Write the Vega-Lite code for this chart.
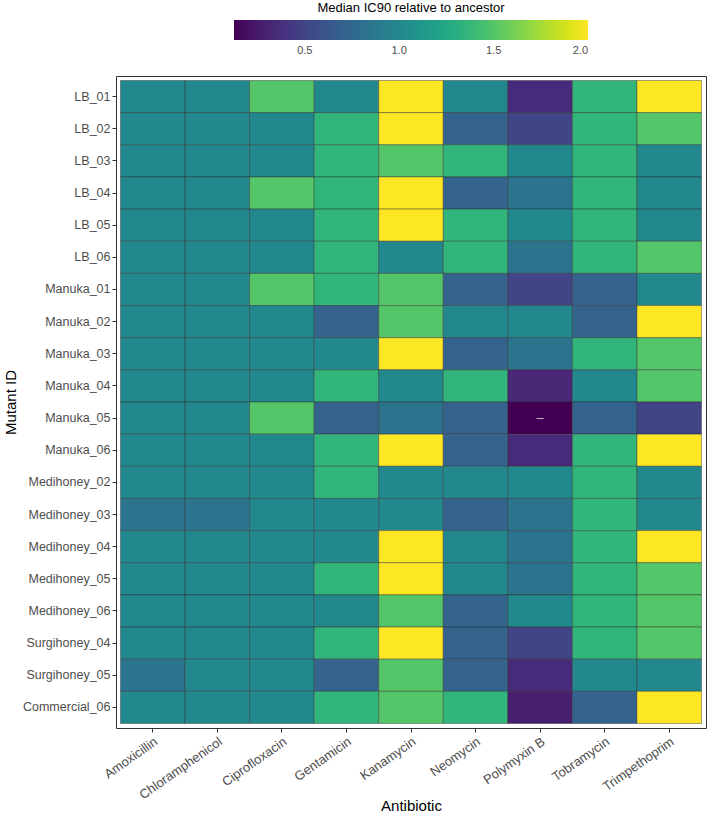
{
  "$schema": "https://vega.github.io/schema/vega-lite/v6.json",
  "width": 590,
  "height": 652,
  "autosize": {"type": "none"},
  "padding": {"left": 116, "top": 76, "right": 3, "bottom": 88},
  "background": "white",
  "config": {
    "font": "Liberation Sans",
    "view": {"stroke": "#333333", "strokeWidth": 1},
    "axis": {
      "titleFontSize": 15,
      "titleFontWeight": "normal",
      "titleColor": "black",
      "labelFontSize": 12.5,
      "labelColor": "#4d4d4d",
      "tickColor": "#333333",
      "tickSize": 4,
      "domain": false,
      "labelPadding": 2,
      "grid": false
    }
  },
  "data": {
    "values": [
      {"mutant": "LB_01", "antibiotic": "Amoxicillin", "value": 1},
      {"mutant": "LB_01", "antibiotic": "Chloramphenicol", "value": 1},
      {"mutant": "LB_01", "antibiotic": "Ciprofloxacin", "value": 1.5},
      {"mutant": "LB_01", "antibiotic": "Gentamicin", "value": 1},
      {"mutant": "LB_01", "antibiotic": "Kanamycin", "value": 2},
      {"mutant": "LB_01", "antibiotic": "Neomycin", "value": 1},
      {"mutant": "LB_01", "antibiotic": "Polymyxin B", "value": 0.35},
      {"mutant": "LB_01", "antibiotic": "Tobramycin", "value": 1.36},
      {"mutant": "LB_01", "antibiotic": "Trimpethoprim", "value": 2},
      {"mutant": "LB_02", "antibiotic": "Amoxicillin", "value": 1},
      {"mutant": "LB_02", "antibiotic": "Chloramphenicol", "value": 1},
      {"mutant": "LB_02", "antibiotic": "Ciprofloxacin", "value": 1},
      {"mutant": "LB_02", "antibiotic": "Gentamicin", "value": 1.36},
      {"mutant": "LB_02", "antibiotic": "Kanamycin", "value": 2},
      {"mutant": "LB_02", "antibiotic": "Neomycin", "value": 0.71},
      {"mutant": "LB_02", "antibiotic": "Polymyxin B", "value": 0.5},
      {"mutant": "LB_02", "antibiotic": "Tobramycin", "value": 1.36},
      {"mutant": "LB_02", "antibiotic": "Trimpethoprim", "value": 1.5},
      {"mutant": "LB_03", "antibiotic": "Amoxicillin", "value": 1},
      {"mutant": "LB_03", "antibiotic": "Chloramphenicol", "value": 1},
      {"mutant": "LB_03", "antibiotic": "Ciprofloxacin", "value": 1},
      {"mutant": "LB_03", "antibiotic": "Gentamicin", "value": 1.36},
      {"mutant": "LB_03", "antibiotic": "Kanamycin", "value": 1.5},
      {"mutant": "LB_03", "antibiotic": "Neomycin", "value": 1.36},
      {"mutant": "LB_03", "antibiotic": "Polymyxin B", "value": 1},
      {"mutant": "LB_03", "antibiotic": "Tobramycin", "value": 1.36},
      {"mutant": "LB_03", "antibiotic": "Trimpethoprim", "value": 1},
      {"mutant": "LB_04", "antibiotic": "Amoxicillin", "value": 1},
      {"mutant": "LB_04", "antibiotic": "Chloramphenicol", "value": 1},
      {"mutant": "LB_04", "antibiotic": "Ciprofloxacin", "value": 1.5},
      {"mutant": "LB_04", "antibiotic": "Gentamicin", "value": 1.36},
      {"mutant": "LB_04", "antibiotic": "Kanamycin", "value": 2},
      {"mutant": "LB_04", "antibiotic": "Neomycin", "value": 0.71},
      {"mutant": "LB_04", "antibiotic": "Polymyxin B", "value": 0.84},
      {"mutant": "LB_04", "antibiotic": "Tobramycin", "value": 1.36},
      {"mutant": "LB_04", "antibiotic": "Trimpethoprim", "value": 1},
      {"mutant": "LB_05", "antibiotic": "Amoxicillin", "value": 1},
      {"mutant": "LB_05", "antibiotic": "Chloramphenicol", "value": 1},
      {"mutant": "LB_05", "antibiotic": "Ciprofloxacin", "value": 1},
      {"mutant": "LB_05", "antibiotic": "Gentamicin", "value": 1.36},
      {"mutant": "LB_05", "antibiotic": "Kanamycin", "value": 2},
      {"mutant": "LB_05", "antibiotic": "Neomycin", "value": 1.36},
      {"mutant": "LB_05", "antibiotic": "Polymyxin B", "value": 1},
      {"mutant": "LB_05", "antibiotic": "Tobramycin", "value": 1.36},
      {"mutant": "LB_05", "antibiotic": "Trimpethoprim", "value": 1},
      {"mutant": "LB_06", "antibiotic": "Amoxicillin", "value": 1},
      {"mutant": "LB_06", "antibiotic": "Chloramphenicol", "value": 1},
      {"mutant": "LB_06", "antibiotic": "Ciprofloxacin", "value": 1},
      {"mutant": "LB_06", "antibiotic": "Gentamicin", "value": 1.36},
      {"mutant": "LB_06", "antibiotic": "Kanamycin", "value": 1},
      {"mutant": "LB_06", "antibiotic": "Neomycin", "value": 1.36},
      {"mutant": "LB_06", "antibiotic": "Polymyxin B", "value": 0.84},
      {"mutant": "LB_06", "antibiotic": "Tobramycin", "value": 1.36},
      {"mutant": "LB_06", "antibiotic": "Trimpethoprim", "value": 1.5},
      {"mutant": "Manuka_01", "antibiotic": "Amoxicillin", "value": 1},
      {"mutant": "Manuka_01", "antibiotic": "Chloramphenicol", "value": 1},
      {"mutant": "Manuka_01", "antibiotic": "Ciprofloxacin", "value": 1.5},
      {"mutant": "Manuka_01", "antibiotic": "Gentamicin", "value": 1.36},
      {"mutant": "Manuka_01", "antibiotic": "Kanamycin", "value": 1.5},
      {"mutant": "Manuka_01", "antibiotic": "Neomycin", "value": 0.71},
      {"mutant": "Manuka_01", "antibiotic": "Polymyxin B", "value": 0.5},
      {"mutant": "Manuka_01", "antibiotic": "Tobramycin", "value": 0.71},
      {"mutant": "Manuka_01", "antibiotic": "Trimpethoprim", "value": 1},
      {"mutant": "Manuka_02", "antibiotic": "Amoxicillin", "value": 1},
      {"mutant": "Manuka_02", "antibiotic": "Chloramphenicol", "value": 1},
      {"mutant": "Manuka_02", "antibiotic": "Ciprofloxacin", "value": 1},
      {"mutant": "Manuka_02", "antibiotic": "Gentamicin", "value": 0.71},
      {"mutant": "Manuka_02", "antibiotic": "Kanamycin", "value": 1.5},
      {"mutant": "Manuka_02", "antibiotic": "Neomycin", "value": 1},
      {"mutant": "Manuka_02", "antibiotic": "Polymyxin B", "value": 1},
      {"mutant": "Manuka_02", "antibiotic": "Tobramycin", "value": 0.71},
      {"mutant": "Manuka_02", "antibiotic": "Trimpethoprim", "value": 2},
      {"mutant": "Manuka_03", "antibiotic": "Amoxicillin", "value": 1},
      {"mutant": "Manuka_03", "antibiotic": "Chloramphenicol", "value": 1},
      {"mutant": "Manuka_03", "antibiotic": "Ciprofloxacin", "value": 1},
      {"mutant": "Manuka_03", "antibiotic": "Gentamicin", "value": 1},
      {"mutant": "Manuka_03", "antibiotic": "Kanamycin", "value": 2},
      {"mutant": "Manuka_03", "antibiotic": "Neomycin", "value": 0.71},
      {"mutant": "Manuka_03", "antibiotic": "Polymyxin B", "value": 0.84},
      {"mutant": "Manuka_03", "antibiotic": "Tobramycin", "value": 1.36},
      {"mutant": "Manuka_03", "antibiotic": "Trimpethoprim", "value": 1.5},
      {"mutant": "Manuka_04", "antibiotic": "Amoxicillin", "value": 1},
      {"mutant": "Manuka_04", "antibiotic": "Chloramphenicol", "value": 1},
      {"mutant": "Manuka_04", "antibiotic": "Ciprofloxacin", "value": 1},
      {"mutant": "Manuka_04", "antibiotic": "Gentamicin", "value": 1.36},
      {"mutant": "Manuka_04", "antibiotic": "Kanamycin", "value": 1},
      {"mutant": "Manuka_04", "antibiotic": "Neomycin", "value": 1.36},
      {"mutant": "Manuka_04", "antibiotic": "Polymyxin B", "value": 0.33},
      {"mutant": "Manuka_04", "antibiotic": "Tobramycin", "value": 1},
      {"mutant": "Manuka_04", "antibiotic": "Trimpethoprim", "value": 1.5},
      {"mutant": "Manuka_05", "antibiotic": "Amoxicillin", "value": 1},
      {"mutant": "Manuka_05", "antibiotic": "Chloramphenicol", "value": 1},
      {"mutant": "Manuka_05", "antibiotic": "Ciprofloxacin", "value": 1.5},
      {"mutant": "Manuka_05", "antibiotic": "Gentamicin", "value": 0.71},
      {"mutant": "Manuka_05", "antibiotic": "Kanamycin", "value": 0.84},
      {"mutant": "Manuka_05", "antibiotic": "Neomycin", "value": 0.71},
      {"mutant": "Manuka_05", "antibiotic": "Polymyxin B", "value": 0.125, "label": "–"},
      {"mutant": "Manuka_05", "antibiotic": "Tobramycin", "value": 0.71},
      {"mutant": "Manuka_05", "antibiotic": "Trimpethoprim", "value": 0.5},
      {"mutant": "Manuka_06", "antibiotic": "Amoxicillin", "value": 1},
      {"mutant": "Manuka_06", "antibiotic": "Chloramphenicol", "value": 1},
      {"mutant": "Manuka_06", "antibiotic": "Ciprofloxacin", "value": 1},
      {"mutant": "Manuka_06", "antibiotic": "Gentamicin", "value": 1.36},
      {"mutant": "Manuka_06", "antibiotic": "Kanamycin", "value": 2},
      {"mutant": "Manuka_06", "antibiotic": "Neomycin", "value": 0.71},
      {"mutant": "Manuka_06", "antibiotic": "Polymyxin B", "value": 0.35},
      {"mutant": "Manuka_06", "antibiotic": "Tobramycin", "value": 1.36},
      {"mutant": "Manuka_06", "antibiotic": "Trimpethoprim", "value": 2},
      {"mutant": "Medihoney_02", "antibiotic": "Amoxicillin", "value": 1},
      {"mutant": "Medihoney_02", "antibiotic": "Chloramphenicol", "value": 1},
      {"mutant": "Medihoney_02", "antibiotic": "Ciprofloxacin", "value": 1},
      {"mutant": "Medihoney_02", "antibiotic": "Gentamicin", "value": 1.36},
      {"mutant": "Medihoney_02", "antibiotic": "Kanamycin", "value": 1},
      {"mutant": "Medihoney_02", "antibiotic": "Neomycin", "value": 1},
      {"mutant": "Medihoney_02", "antibiotic": "Polymyxin B", "value": 1},
      {"mutant": "Medihoney_02", "antibiotic": "Tobramycin", "value": 1.36},
      {"mutant": "Medihoney_02", "antibiotic": "Trimpethoprim", "value": 1},
      {"mutant": "Medihoney_03", "antibiotic": "Amoxicillin", "value": 0.84},
      {"mutant": "Medihoney_03", "antibiotic": "Chloramphenicol", "value": 0.84},
      {"mutant": "Medihoney_03", "antibiotic": "Ciprofloxacin", "value": 1},
      {"mutant": "Medihoney_03", "antibiotic": "Gentamicin", "value": 1},
      {"mutant": "Medihoney_03", "antibiotic": "Kanamycin", "value": 1},
      {"mutant": "Medihoney_03", "antibiotic": "Neomycin", "value": 0.71},
      {"mutant": "Medihoney_03", "antibiotic": "Polymyxin B", "value": 0.84},
      {"mutant": "Medihoney_03", "antibiotic": "Tobramycin", "value": 1.36},
      {"mutant": "Medihoney_03", "antibiotic": "Trimpethoprim", "value": 1},
      {"mutant": "Medihoney_04", "antibiotic": "Amoxicillin", "value": 1},
      {"mutant": "Medihoney_04", "antibiotic": "Chloramphenicol", "value": 1},
      {"mutant": "Medihoney_04", "antibiotic": "Ciprofloxacin", "value": 1},
      {"mutant": "Medihoney_04", "antibiotic": "Gentamicin", "value": 1},
      {"mutant": "Medihoney_04", "antibiotic": "Kanamycin", "value": 2},
      {"mutant": "Medihoney_04", "antibiotic": "Neomycin", "value": 1},
      {"mutant": "Medihoney_04", "antibiotic": "Polymyxin B", "value": 0.84},
      {"mutant": "Medihoney_04", "antibiotic": "Tobramycin", "value": 1.36},
      {"mutant": "Medihoney_04", "antibiotic": "Trimpethoprim", "value": 2},
      {"mutant": "Medihoney_05", "antibiotic": "Amoxicillin", "value": 1},
      {"mutant": "Medihoney_05", "antibiotic": "Chloramphenicol", "value": 1},
      {"mutant": "Medihoney_05", "antibiotic": "Ciprofloxacin", "value": 1},
      {"mutant": "Medihoney_05", "antibiotic": "Gentamicin", "value": 1.36},
      {"mutant": "Medihoney_05", "antibiotic": "Kanamycin", "value": 2},
      {"mutant": "Medihoney_05", "antibiotic": "Neomycin", "value": 1},
      {"mutant": "Medihoney_05", "antibiotic": "Polymyxin B", "value": 0.84},
      {"mutant": "Medihoney_05", "antibiotic": "Tobramycin", "value": 1.36},
      {"mutant": "Medihoney_05", "antibiotic": "Trimpethoprim", "value": 1.5},
      {"mutant": "Medihoney_06", "antibiotic": "Amoxicillin", "value": 1},
      {"mutant": "Medihoney_06", "antibiotic": "Chloramphenicol", "value": 1},
      {"mutant": "Medihoney_06", "antibiotic": "Ciprofloxacin", "value": 1},
      {"mutant": "Medihoney_06", "antibiotic": "Gentamicin", "value": 1},
      {"mutant": "Medihoney_06", "antibiotic": "Kanamycin", "value": 1.5},
      {"mutant": "Medihoney_06", "antibiotic": "Neomycin", "value": 0.71},
      {"mutant": "Medihoney_06", "antibiotic": "Polymyxin B", "value": 1},
      {"mutant": "Medihoney_06", "antibiotic": "Tobramycin", "value": 1.36},
      {"mutant": "Medihoney_06", "antibiotic": "Trimpethoprim", "value": 1.5},
      {"mutant": "Surgihoney_04", "antibiotic": "Amoxicillin", "value": 1},
      {"mutant": "Surgihoney_04", "antibiotic": "Chloramphenicol", "value": 1},
      {"mutant": "Surgihoney_04", "antibiotic": "Ciprofloxacin", "value": 1},
      {"mutant": "Surgihoney_04", "antibiotic": "Gentamicin", "value": 1.36},
      {"mutant": "Surgihoney_04", "antibiotic": "Kanamycin", "value": 2},
      {"mutant": "Surgihoney_04", "antibiotic": "Neomycin", "value": 0.71},
      {"mutant": "Surgihoney_04", "antibiotic": "Polymyxin B", "value": 0.5},
      {"mutant": "Surgihoney_04", "antibiotic": "Tobramycin", "value": 1.36},
      {"mutant": "Surgihoney_04", "antibiotic": "Trimpethoprim", "value": 1.5},
      {"mutant": "Surgihoney_05", "antibiotic": "Amoxicillin", "value": 0.84},
      {"mutant": "Surgihoney_05", "antibiotic": "Chloramphenicol", "value": 1},
      {"mutant": "Surgihoney_05", "antibiotic": "Ciprofloxacin", "value": 1},
      {"mutant": "Surgihoney_05", "antibiotic": "Gentamicin", "value": 0.71},
      {"mutant": "Surgihoney_05", "antibiotic": "Kanamycin", "value": 1.5},
      {"mutant": "Surgihoney_05", "antibiotic": "Neomycin", "value": 0.71},
      {"mutant": "Surgihoney_05", "antibiotic": "Polymyxin B", "value": 0.35},
      {"mutant": "Surgihoney_05", "antibiotic": "Tobramycin", "value": 1},
      {"mutant": "Surgihoney_05", "antibiotic": "Trimpethoprim", "value": 1},
      {"mutant": "Commercial_06", "antibiotic": "Amoxicillin", "value": 1},
      {"mutant": "Commercial_06", "antibiotic": "Chloramphenicol", "value": 1},
      {"mutant": "Commercial_06", "antibiotic": "Ciprofloxacin", "value": 1},
      {"mutant": "Commercial_06", "antibiotic": "Gentamicin", "value": 1.36},
      {"mutant": "Commercial_06", "antibiotic": "Kanamycin", "value": 1.5},
      {"mutant": "Commercial_06", "antibiotic": "Neomycin", "value": 1.36},
      {"mutant": "Commercial_06", "antibiotic": "Polymyxin B", "value": 0.27},
      {"mutant": "Commercial_06", "antibiotic": "Tobramycin", "value": 0.71},
      {"mutant": "Commercial_06", "antibiotic": "Trimpethoprim", "value": 2}
    ]
  },
  "encoding": {
    "x": {
      "field": "antibiotic",
      "type": "nominal",
      "sort": ["Amoxicillin", "Chloramphenicol", "Ciprofloxacin", "Gentamicin", "Kanamycin", "Neomycin", "Polymyxin B", "Tobramycin", "Trimpethoprim"],
      "scale": {"paddingInner": 0, "paddingOuter": 0.07},
      "axis": {
        "title": "Antibiotic",
        "labelAngle": -35,
        "labelAlign": "right",
        "labelBaseline": "top",
        "labelFontSize": 13,
        "labelPadding": 3,
        "titleY": 77,
        "titleBaseline": "middle"
      }
    },
    "y": {
      "field": "mutant",
      "type": "nominal",
      "sort": ["LB_01", "LB_02", "LB_03", "LB_04", "LB_05", "LB_06", "Manuka_01", "Manuka_02", "Manuka_03", "Manuka_04", "Manuka_05", "Manuka_06", "Medihoney_02", "Medihoney_03", "Medihoney_04", "Medihoney_05", "Medihoney_06", "Surgihoney_04", "Surgihoney_05", "Commercial_06"],
      "scale": {"paddingInner": 0, "paddingOuter": 0.14},
      "axis": {
        "title": "Mutant ID",
        "titleX": -106,
        "titleBaseline": "middle"
      }
    }
  },
  "layer": [
    {
      "mark": {"type": "rect", "stroke": "#2b2b2b", "strokeWidth": 0.7, "strokeOpacity": 0.6},
      "encoding": {
        "color": {
          "field": "value",
          "type": "quantitative",
          "scale": {"scheme": "viridis", "domain": [0.125, 2]},
          "legend": {
            "orient": "none",
            "legendX": 118,
            "legendY": -74,
            "direction": "horizontal",
            "gradientLength": 354,
            "gradientThickness": 20,
            "gradientStrokeWidth": 0,
            "title": "Median IC90 relative to ancestor",
            "titleFontSize": 13,
            "titleFontWeight": "normal",
            "titleColor": "black",
            "titleAnchor": "middle",
            "titleLimit": 500,
            "titlePadding": 5,
            "labelFontSize": 11,
            "labelColor": "#4d4d4d",
            "labelOffset": 5,
            "values": [0.5, 1, 1.5, 2],
            "format": ".1f"
          }
        }
      }
    },
    {
      "transform": [{"filter": "datum.label"}],
      "mark": {"type": "text", "color": "white", "opacity": 0.75, "fontSize": 13},
      "encoding": {"text": {"field": "label"}}
    }
  ]
}
